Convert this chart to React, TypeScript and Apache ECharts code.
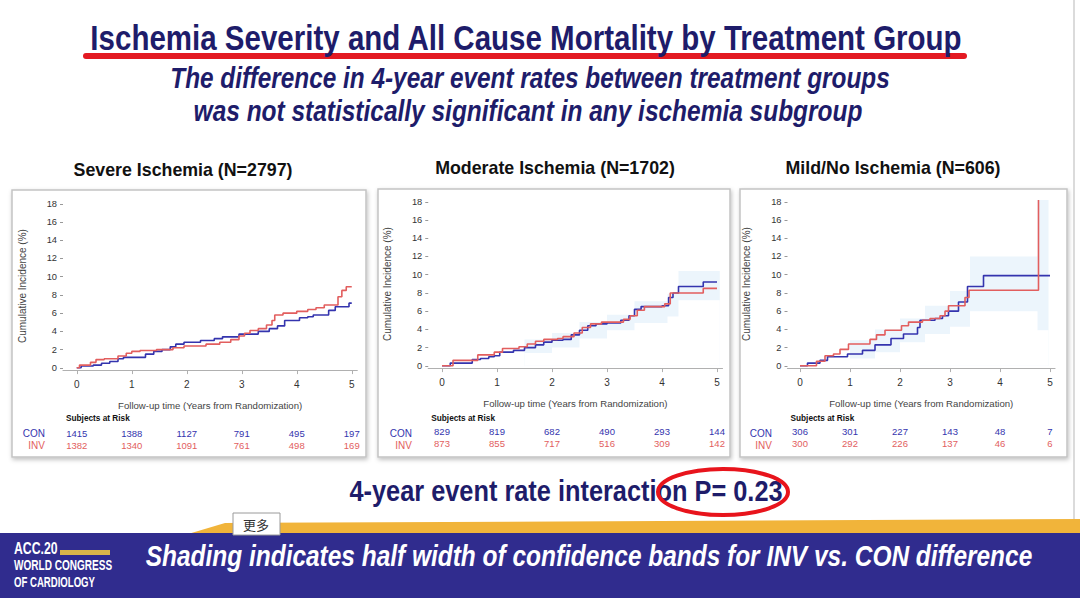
import React, { useEffect, useRef } from 'react';
import * as echarts from 'echarts';

// ---------- data ----------
const YEAR_TICKS = [0, 1, 2, 3, 4, 5];
const PCT_TICKS = [0, 2, 4, 6, 8, 10, 12, 14, 16, 18];

const PANEL_TITLES = ['Severe Ischemia (N=2797)', 'Moderate Ischemia (N=1702)', 'Mild/No Ischemia (N=606)'];

// Severe ischemia – cumulative incidence (%) step curves [time (yr), value]
const SEV_CON_T = [0, 0.08, 0.3, 0.45, 0.6, 0.75, 0.85, 1.25, 1.4, 1.55, 1.7, 1.8, 1.95, 2.25, 2.5, 2.65, 2.95, 3.3, 3.5, 3.65, 3.78, 4.05, 4.2, 4.3, 4.58, 4.7, 4.95, 5.0];
const SEV_CON_V = [0, 0.2, 0.3, 0.5, 0.7, 1.0, 1.15, 1.5, 1.8, 2.0, 2.3, 2.6, 2.8, 3.0, 3.2, 3.4, 3.7, 4.0, 4.3, 4.6, 5.2, 5.5, 5.6, 5.8, 6.3, 6.7, 7.1, 7.1];
const SEV_INV_T = [0, 0.05, 0.25, 0.35, 0.5, 0.75, 0.9, 1.0, 1.15, 1.45, 1.75, 1.95, 2.35, 2.6, 2.8, 2.95, 3.05, 3.15, 3.3, 3.45, 3.55, 3.6, 3.75, 4.0, 4.2, 4.35, 4.5, 4.75, 4.82, 4.9, 5.0];
const SEV_INV_V = [0, 0.3, 0.6, 0.9, 1.0, 1.3, 1.6, 1.8, 1.9, 2.0, 2.2, 2.4, 2.6, 2.8, 3.1, 3.5, 3.8, 4.1, 4.3, 4.7, 5.2, 5.8, 6.0, 6.2, 6.4, 6.6, 6.9, 7.8, 8.5, 8.9, 8.9];

// Moderate ischemia
const MOD_CON_T = [0, 0.15, 0.55, 0.7, 0.85, 0.95, 1.05, 1.3, 1.5, 1.7, 1.85, 2.0, 2.2, 2.35, 2.5, 2.65, 2.8, 3.0, 3.25, 3.4, 3.5, 3.62, 4.0, 4.12, 4.2, 4.3, 4.75, 5.0];
const MOD_CON_V = [0, 0.3, 0.7, 0.8, 1.0, 1.1, 1.5, 1.7, 2.0, 2.3, 2.6, 2.8, 2.9, 3.4, 3.9, 4.4, 4.6, 4.7, 5.0, 5.5, 6.2, 6.5, 6.6, 7.5, 8.0, 8.7, 9.2, 9.2];
const MOD_INV_T = [0, 0.2, 0.65, 0.95, 1.1, 1.4, 1.55, 1.7, 1.85, 2.1, 2.2, 2.4, 2.55, 2.7, 2.9, 3.3, 3.42, 3.55, 3.68, 4.05, 4.15, 4.75, 5.0];
const MOD_INV_V = [0, 0.6, 1.2, 1.5, 1.9, 2.1, 2.4, 2.7, 2.9, 3.0, 3.2, 3.6, 4.2, 4.6, 4.8, 5.1, 5.5, 6.1, 6.5, 6.8, 8.0, 8.5, 8.5];

// Mild / no ischemia
const MILD_CON_T = [0, 0.15, 0.4, 0.55, 0.95, 1.25, 1.5, 1.82, 2.07, 2.35, 2.4, 2.7, 2.85, 2.97, 3.17, 3.35, 3.67, 5.0];
const MILD_CON_V = [0, 0.3, 0.6, 1.0, 1.3, 1.7, 2.3, 3.0, 3.5, 4.2, 5.0, 5.2, 5.5, 6.0, 7.0, 8.7, 9.9, 9.9];
const MILD_INV_T = [0, 0.33, 0.5, 0.67, 0.8, 0.97, 1.4, 1.53, 1.7, 2.03, 2.17, 2.45, 2.6, 2.8, 2.9, 2.97, 3.3, 3.38, 4.77];
const MILD_INV_V = [0, 0.5, 1.1, 1.3, 1.8, 2.4, 2.9, 3.4, 3.9, 4.4, 4.8, 5.0, 5.2, 5.5, 6.0, 6.6, 7.5, 8.3, 18.2];

// Shading: half width of confidence band for INV vs CON difference
const MOD_BAND_T = [1.5, 2.0, 2.5, 3.0, 3.5, 4.1, 4.3, 5.05];
const MOD_BAND_LO = [1.4, 2.0, 3.0, 3.9, 4.7, 5.4, 7.2, 7.2];
const MOD_BAND_HI = [2.9, 3.6, 4.8, 5.6, 7.1, 7.9, 10.4, 10.4];
const MILD_BAND_T = [1.0, 1.5, 2.0, 2.5, 3.0, 3.4, 4.75, 4.97];
const MILD_BAND_LO = [0.8, 1.5, 2.6, 3.5, 4.3, 6.0, 3.9, 3.9];
const MILD_BAND_HI = [2.8, 4.0, 5.2, 6.6, 8.2, 12.0, 18.2, 18.2];

// Subjects at risk at years 0..5
const RISK_SEV_CON = [1415, 1388, 1127, 791, 495, 197];
const RISK_SEV_INV = [1382, 1340, 1091, 761, 498, 169];
const RISK_MOD_CON = [829, 819, 682, 490, 293, 144];
const RISK_MOD_INV = [873, 855, 717, 516, 309, 142];
const RISK_MILD_CON = [306, 301, 227, 143, 48, 7];
const RISK_MILD_INV = [300, 292, 226, 137, 46, 6];

const HEADLINE = 'Ischemia Severity and All Cause Mortality by Treatment Group';
const SUB1 = 'The difference in 4-year event rates between treatment groups';
const SUB2 = 'was not statistically significant in any ischemia subgroup';
const PTEXT = '4-year event rate interaction P= 0.23';
const BANNER = 'Shading indicates half width of confidence bands for INV vs. CON difference';

// ---------- styling ----------
const BLUE = '#3434ae';
const RED = '#e25e5e';
const NAVY = '#1e1c6a';
const BAND = '#ecf5fc';
const ARIAL = '"Liberation Sans", Arial, sans-serif';

const pairs = (t: number[], v: number[]) => t.map((x, i) => [x, v[i]]);

const PANELS = [
  { con: pairs(SEV_CON_T, SEV_CON_V), inv: pairs(SEV_INV_T, SEV_INV_V), band: null as null | any, riskCon: RISK_SEV_CON, riskInv: RISK_SEV_INV,
    grid: { left: 63, top: 202, width: 294.25, height: 168.1 }, box: [12, 190, 354, 267], titleX: 183, titleY: 170, rowLabelX: 45 },
  { con: pairs(MOD_CON_T, MOD_CON_V), inv: pairs(MOD_INV_T, MOD_INV_V), band: { t: MOD_BAND_T, lo: MOD_BAND_LO, hi: MOD_BAND_HI }, riskCon: RISK_MOD_CON, riskInv: RISK_MOD_INV,
    grid: { left: 428.25, top: 200, width: 294.25, height: 168.1 }, box: [378, 189, 352, 268], titleX: 555, titleY: 168, rowLabelX: 412 },
  { con: pairs(MILD_CON_T, MILD_CON_V), inv: pairs(MILD_INV_T, MILD_INV_V), band: { t: MILD_BAND_T, lo: MILD_BAND_LO, hi: MILD_BAND_HI }, riskCon: RISK_MILD_CON, riskInv: RISK_MILD_INV,
    grid: { left: 787.5, top: 200, width: 267.5, height: 168.1 }, box: [740, 189, 327, 268], titleX: 893, titleY: 168, rowLabelX: 772 },
];

function txt(text: string, x: number, y: number, o: any = {}) {
  const align = o.align || 'center';
  return {
    type: 'text', x, y, z: 20,
    scaleX: o.scaleX || 1, scaleY: 1,
    style: {
      text, fill: o.fill || '#000', fontSize: o.size || 12, fontWeight: o.weight || 'normal', fontStyle: o.style || 'normal',
      fontFamily: o.family || ARIAL, align, textAlign: align, verticalAlign: 'middle', textVerticalAlign: 'middle',
    },
  };
}

export default function App() {
  const ref = useRef<HTMLDivElement>(null);
  useEffect(() => {
    if (!ref.current) return;
    const chart = echarts.init(ref.current, undefined, { renderer: 'svg', width: 1080, height: 602 });

    const grids: any[] = [];
    const xAxes: any[] = [];
    const yAxes: any[] = [];
    const series: any[] = [];
    const graphics: any[] = [];

    PANELS.forEach((p, i) => {
      grids.push({ ...p.grid, containLabel: false });
      const baseX = {
        type: 'value', gridIndex: i, min: -0.25, max: 5.1, position: 'bottom',
        splitLine: { show: false },
      };
      xAxes.push({
        ...baseX,
        name: 'Follow-up time (Years from Randomization)', nameLocation: 'middle', nameGap: 30, nameMoveOverlap: false,
        nameTextStyle: { fontSize: 9.6, color: '#444', fontFamily: ARIAL },
        axisLine: { show: true, onZero: false, lineStyle: { color: '#b0b0b0', width: 1.2 } },
        axisTick: { show: true, length: 4, customValues: YEAR_TICKS, lineStyle: { color: '#b0b0b0' } },
        axisLabel: { customValues: YEAR_TICKS, margin: 9, fontSize: 10, color: '#333', fontFamily: ARIAL },
      });
      xAxes.push({
        ...baseX,
        axisLine: { show: false, onZero: false }, axisTick: { show: false },
        axisLabel: { customValues: YEAR_TICKS, margin: 58, fontSize: 9.5, color: BLUE, fontFamily: ARIAL,
          formatter: (v: number) => String(p.riskCon[Math.round(v)]) },
      });
      xAxes.push({
        ...baseX,
        axisLine: { show: false, onZero: false }, axisTick: { show: false },
        axisLabel: { customValues: YEAR_TICKS, margin: 70, fontSize: 9.5, color: RED, fontFamily: ARIAL,
          formatter: (v: number) => String(p.riskInv[Math.round(v)]) },
      });
      yAxes.push({
        type: 'value', gridIndex: i, min: -0.25, max: 18.2,
        name: 'Cumulative Incidence (%)', nameLocation: 'middle', nameGap: 36, nameRotate: 90, nameMoveOverlap: false,
        nameTextStyle: { fontSize: 10, color: '#444', fontFamily: ARIAL },
        splitLine: { show: false },
        axisLine: { show: false, onZero: false },
        axisTick: { show: true, length: 3, customValues: PCT_TICKS, lineStyle: { color: '#999' } },
        axisLabel: { customValues: PCT_TICKS, margin: 6, fontSize: 9.3, color: '#333', fontFamily: ARIAL },
      });

      const xi = i * 3;
      if (p.band) {
        // upper edge filled down to zero, then lower edge filled with white on top -> band between them
        series.push({
          type: 'line', xAxisIndex: xi, yAxisIndex: i, step: 'end', symbol: 'none',
          lineStyle: { width: 0, opacity: 0 }, areaStyle: { color: BAND, opacity: 1 }, silent: true, z: 1,
          data: pairs(p.band.t, p.band.hi),
        });
        series.push({
          type: 'line', xAxisIndex: xi, yAxisIndex: i, step: 'end', symbol: 'none',
          lineStyle: { width: 0, opacity: 0 }, areaStyle: { color: '#ffffff', opacity: 1 }, silent: true, z: 1,
          data: pairs(p.band.t, p.band.lo),
        });
      }
      series.push({
        type: 'line', xAxisIndex: xi, yAxisIndex: i, step: 'end', symbol: 'none', z: 3,
        lineStyle: { color: BLUE, width: 1.6 }, data: p.con,
      });
      series.push({
        type: 'line', xAxisIndex: xi, yAxisIndex: i, step: 'end', symbol: 'none', z: 4,
        lineStyle: { color: RED, width: 1.6 }, data: p.inv,
      });

      const [bx, by, bw, bh] = p.box;
      graphics.push({
        type: 'rect', z: -10, shape: { x: bx, y: by, width: bw, height: bh },
        style: { fill: '#fff', stroke: '#c4c4c4', lineWidth: 1.5, shadowBlur: 4, shadowColor: 'rgba(0,0,0,0.25)', shadowOffsetX: 1, shadowOffsetY: 2 },
      });
      graphics.push(txt(PANEL_TITLES[i], p.titleX, p.titleY, { size: 17.8, weight: 'bold', fill: '#111' }));
      graphics.push(txt('Subjects at Risk', p.grid.left + 3, 418, { size: 9, weight: 'bold', align: 'left', fill: '#111', scaleX: 0.92 }));
      graphics.push(txt('CON', p.rowLabelX, 433, { size: 10, align: 'right', fill: BLUE }));
      graphics.push(txt('INV', p.rowLabelX, 445, { size: 10, align: 'right', fill: RED }));
    });

    // slide decorations
    graphics.push({ type: 'line', z: -20, shape: { x1: 1074, y1: 0, x2: 1074, y2: 520 }, style: { stroke: '#cfcfcf', lineWidth: 1.5 } });
    graphics.push(txt(HEADLINE, 526, 37, { size: 36, weight: 'bold', fill: NAVY, scaleX: 0.82 }));
    graphics.push({ type: 'rect', z: 15, shape: { x: 83, y: 53, width: 884, height: 6, r: 3 }, style: { fill: '#e31a22' } });
    graphics.push(txt(SUB1, 530, 78, { size: 30, weight: 'bold', style: 'italic', fill: NAVY, scaleX: 0.812 }));
    graphics.push(txt(SUB2, 528, 111, { size: 30, weight: 'bold', style: 'italic', fill: NAVY, scaleX: 0.816 }));
    graphics.push(txt(PTEXT, 566, 491, { size: 30, weight: 'bold', fill: NAVY, scaleX: 0.845 }));
    graphics.push({ type: 'ellipse', z: 21, shape: { cx: 723, cy: 492, rx: 65, ry: 23 }, style: { fill: 'none', stroke: '#e8141c', lineWidth: 4 } });

    // banner
    graphics.push({ type: 'polygon', z: 5, shape: { points: [[188, 534], [225, 523], [1080, 519], [1080, 534]] }, style: { fill: '#f1b43a' } });
    graphics.push({ type: 'rect', z: 6, shape: { x: 0, y: 533, width: 1080, height: 65 }, style: { fill: '#302c8e' } });
    graphics.push(txt(BANNER, 589, 556, { size: 30, weight: 'bold', style: 'italic', fill: '#ffffff', scaleX: 0.815 }));
    graphics.push(txt('ACC.20', 14, 548, { size: 17, weight: 'bold', align: 'left', fill: '#fff', scaleX: 0.72 }));
    graphics.push({ type: 'rect', z: 21, shape: { x: 60, y: 550, width: 50, height: 5 }, style: { fill: '#d9b64a' } });
    graphics.push(txt('WORLD CONGRESS', 14, 565, { size: 15, weight: 'bold', align: 'left', fill: '#fff', scaleX: 0.67 }));
    graphics.push(txt('OF CARDIOLOGY', 14, 582, { size: 15, weight: 'bold', align: 'left', fill: '#fff', scaleX: 0.64 }));

    // "更多" tooltip box
    graphics.push({ type: 'rect', z: 30, shape: { x: 233, y: 513, width: 47, height: 22 }, style: { fill: '#fff', stroke: '#9a9a9a', lineWidth: 1 } });
    graphics.push({ ...txt('更多', 256, 524, { size: 13, fill: '#333', family: '"Noto Sans CJK SC", sans-serif' }), z: 31 });

    chart.setOption({
      animation: false,
      backgroundColor: '#ffffff',
      grid: grids,
      xAxis: xAxes,
      yAxis: yAxes,
      series,
      graphic: { elements: graphics },
    });
    return () => chart.dispose();
  }, []);

  return <div ref={ref} style={{ position: 'absolute', left: 0, top: 0, width: 1080, height: 602, background: '#fff' }} />;
}
